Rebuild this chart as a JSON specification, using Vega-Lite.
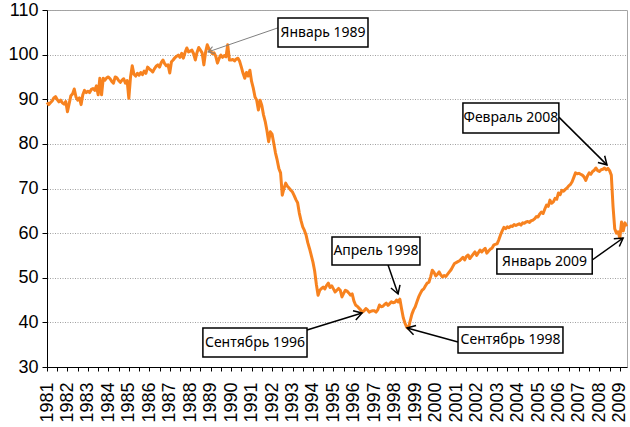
{
  "$schema": "https://vega.github.io/schema/vega-lite/v6.json",
  "autosize": "none",
  "width": 580,
  "height": 357,
  "padding": {"left": 47, "top": 10, "right": 3, "bottom": 60},
  "background": "white",
  "config": {
    "view": {"stroke": "#A6A6A6", "strokeWidth": 1},
    "axis": {"labelOverlap": false, "labelFlush": false, "labelBound": false}
  },
  "datasets": {
    "series": [
      {"t":1981,"v":89.3},{"t":1981.083,"v":88.8},{"t":1981.167,"v":89.2},{"t":1981.25,"v":89.6},{"t":1981.333,"v":90.3},{"t":1981.417,"v":90.6},{"t":1981.5,"v":89.9},{"t":1981.583,"v":89.4},{"t":1981.667,"v":89.8},{"t":1981.75,"v":89.2},{"t":1981.833,"v":88.9},{"t":1981.917,"v":89.5},
      {"t":1982,"v":87.2},{"t":1982.083,"v":89},{"t":1982.167,"v":90.8},{"t":1982.25,"v":91.2},{"t":1982.333,"v":92.3},{"t":1982.417,"v":90.5},{"t":1982.5,"v":89.8},{"t":1982.583,"v":90.3},{"t":1982.667,"v":88.8},{"t":1982.75,"v":91},{"t":1982.833,"v":92},{"t":1982.917,"v":91.5},
      {"t":1983,"v":91.8},{"t":1983.083,"v":91.5},{"t":1983.167,"v":92.2},{"t":1983.25,"v":92.4},{"t":1983.333,"v":92},{"t":1983.417,"v":93},{"t":1983.5,"v":91},{"t":1983.583,"v":94.7},{"t":1983.667,"v":91},{"t":1983.75,"v":94.7},{"t":1983.833,"v":94.3},{"t":1983.917,"v":94.8},
      {"t":1984,"v":95},{"t":1984.083,"v":94.6},{"t":1984.167,"v":94},{"t":1984.25,"v":93.6},{"t":1984.333,"v":95},{"t":1984.417,"v":94.8},{"t":1984.5,"v":94.2},{"t":1984.583,"v":93.8},{"t":1984.667,"v":94.3},{"t":1984.75,"v":94.6},{"t":1984.833,"v":93.6},{"t":1984.917,"v":94.2},
      {"t":1985,"v":90.2},{"t":1985.083,"v":95},{"t":1985.167,"v":97.5},{"t":1985.25,"v":95.6},{"t":1985.333,"v":95.2},{"t":1985.417,"v":95.8},{"t":1985.5,"v":95.4},{"t":1985.583,"v":96},{"t":1985.667,"v":95.5},{"t":1985.75,"v":96.3},{"t":1985.833,"v":95.8},{"t":1985.917,"v":97.2},
      {"t":1986,"v":96.8},{"t":1986.083,"v":96.5},{"t":1986.167,"v":96.1},{"t":1986.25,"v":96.8},{"t":1986.333,"v":97.4},{"t":1986.417,"v":97.7},{"t":1986.5,"v":97.2},{"t":1986.583,"v":98.2},{"t":1986.667,"v":98.8},{"t":1986.75,"v":98},{"t":1986.833,"v":97.5},{"t":1986.917,"v":97.7},
      {"t":1987,"v":95.9},{"t":1987.083,"v":98.4},{"t":1987.167,"v":98.8},{"t":1987.25,"v":99.3},{"t":1987.333,"v":99.6},{"t":1987.417,"v":99.9},{"t":1987.5,"v":99.4},{"t":1987.583,"v":100.3},{"t":1987.667,"v":99.2},{"t":1987.75,"v":100.5},{"t":1987.833,"v":101.5},{"t":1987.917,"v":100.6},
      {"t":1988,"v":100.8},{"t":1988.083,"v":101},{"t":1988.167,"v":100.2},{"t":1988.25,"v":98.8},{"t":1988.333,"v":100.5},{"t":1988.417,"v":101.6},{"t":1988.5,"v":101},{"t":1988.583,"v":100.4},{"t":1988.667,"v":97.7},{"t":1988.75,"v":100.5},{"t":1988.833,"v":102.2},{"t":1988.917,"v":101.3},
      {"t":1989,"v":100.8},{"t":1989.083,"v":100.2},{"t":1989.167,"v":100.4},{"t":1989.25,"v":99.6},{"t":1989.333,"v":98.1},{"t":1989.417,"v":99.2},{"t":1989.5,"v":99.9},{"t":1989.583,"v":99.4},{"t":1989.667,"v":99.8},{"t":1989.75,"v":99.5},{"t":1989.833,"v":102.2},{"t":1989.917,"v":98.8},
      {"t":1990,"v":98.8},{"t":1990.083,"v":98.9},{"t":1990.167,"v":98.6},{"t":1990.25,"v":99},{"t":1990.333,"v":99.2},{"t":1990.417,"v":98.5},{"t":1990.5,"v":97.2},{"t":1990.583,"v":95.8},{"t":1990.667,"v":94.7},{"t":1990.75,"v":96},{"t":1990.833,"v":95.2},{"t":1990.917,"v":96.5},
      {"t":1991,"v":94},{"t":1991.083,"v":92.5},{"t":1991.167,"v":90.5},{"t":1991.25,"v":89.8},{"t":1991.333,"v":87.6},{"t":1991.417,"v":89.8},{"t":1991.5,"v":88.6},{"t":1991.583,"v":86.5},{"t":1991.667,"v":85},{"t":1991.75,"v":83},{"t":1991.833,"v":80.5},{"t":1991.917,"v":82.7},
      {"t":1992,"v":82.2},{"t":1992.083,"v":80.2},{"t":1992.167,"v":78},{"t":1992.25,"v":76.4},{"t":1992.333,"v":74.5},{"t":1992.417,"v":73.5},{"t":1992.5,"v":68.5},{"t":1992.583,"v":70},{"t":1992.667,"v":71.2},{"t":1992.75,"v":70.5},{"t":1992.833,"v":70.1},{"t":1992.917,"v":69.6},
      {"t":1993,"v":69.2},{"t":1993.083,"v":68.4},{"t":1993.167,"v":67.5},{"t":1993.25,"v":66.8},{"t":1993.333,"v":64.5},{"t":1993.417,"v":62.8},{"t":1993.5,"v":61.4},{"t":1993.583,"v":60.6},{"t":1993.667,"v":59.5},{"t":1993.75,"v":57.8},{"t":1993.833,"v":56.5},{"t":1993.917,"v":55},
      {"t":1994,"v":53.5},{"t":1994.083,"v":51.5},{"t":1994.167,"v":48.5},{"t":1994.25,"v":46.1},{"t":1994.333,"v":47.2},{"t":1994.417,"v":47.6},{"t":1994.5,"v":47.9},{"t":1994.583,"v":47.5},{"t":1994.667,"v":48.3},{"t":1994.75,"v":48.8},{"t":1994.833,"v":47.8},{"t":1994.917,"v":48.2},
      {"t":1995,"v":47.5},{"t":1995.083,"v":46.8},{"t":1995.167,"v":47.2},{"t":1995.25,"v":47.6},{"t":1995.333,"v":47.2},{"t":1995.417,"v":45.7},{"t":1995.5,"v":46.5},{"t":1995.583,"v":47.2},{"t":1995.667,"v":47},{"t":1995.75,"v":46.6},{"t":1995.833,"v":46.1},{"t":1995.917,"v":46.4},
      {"t":1996,"v":44.8},{"t":1996.083,"v":43.9},{"t":1996.167,"v":43.6},{"t":1996.25,"v":43.2},{"t":1996.333,"v":42.8},{"t":1996.417,"v":42.3},{"t":1996.5,"v":42.6},{"t":1996.583,"v":43.1},{"t":1996.667,"v":42.8},{"t":1996.75,"v":42.3},{"t":1996.833,"v":42.5},{"t":1996.917,"v":42.6},
      {"t":1997,"v":42.6},{"t":1997.083,"v":42.3},{"t":1997.167,"v":42.8},{"t":1997.25,"v":43.9},{"t":1997.333,"v":43.5},{"t":1997.417,"v":43.6},{"t":1997.5,"v":44},{"t":1997.583,"v":44.3},{"t":1997.667,"v":43.8},{"t":1997.75,"v":44.2},{"t":1997.833,"v":44.6},{"t":1997.917,"v":44.4},
      {"t":1998,"v":44.5},{"t":1998.083,"v":45},{"t":1998.167,"v":44.6},{"t":1998.25,"v":45.2},{"t":1998.333,"v":43},{"t":1998.417,"v":41},{"t":1998.5,"v":39.8},{"t":1998.583,"v":38.9},{"t":1998.667,"v":38.6},{"t":1998.75,"v":40.3},{"t":1998.833,"v":41.8},{"t":1998.917,"v":42.8},
      {"t":1999,"v":43.5},{"t":1999.083,"v":44.6},{"t":1999.167,"v":45.7},{"t":1999.25,"v":46.5},{"t":1999.333,"v":47.2},{"t":1999.417,"v":47.5},{"t":1999.5,"v":48.2},{"t":1999.583,"v":48.8},{"t":1999.667,"v":49},{"t":1999.75,"v":50.2},{"t":1999.833,"v":51.7},{"t":1999.917,"v":51.2},
      {"t":2000,"v":50.4},{"t":2000.083,"v":50.8},{"t":2000.167,"v":51.3},{"t":2000.25,"v":50.6},{"t":2000.333,"v":50.2},{"t":2000.417,"v":50.5},{"t":2000.5,"v":50.3},{"t":2000.583,"v":50.8},{"t":2000.667,"v":51.3},{"t":2000.75,"v":51.8},{"t":2000.833,"v":52.5},{"t":2000.917,"v":53.2},
      {"t":2001,"v":53.4},{"t":2001.083,"v":53.6},{"t":2001.167,"v":53.8},{"t":2001.25,"v":54.2},{"t":2001.333,"v":54.6},{"t":2001.417,"v":54},{"t":2001.5,"v":54.8},{"t":2001.583,"v":55.1},{"t":2001.667,"v":54.3},{"t":2001.75,"v":54.8},{"t":2001.833,"v":55.3},{"t":2001.917,"v":55.8},
      {"t":2002,"v":55},{"t":2002.083,"v":55.6},{"t":2002.167,"v":56.2},{"t":2002.25,"v":55.8},{"t":2002.333,"v":56.2},{"t":2002.417,"v":56.6},{"t":2002.5,"v":55.5},{"t":2002.583,"v":56},{"t":2002.667,"v":56.4},{"t":2002.75,"v":56.6},{"t":2002.833,"v":57.3},{"t":2002.917,"v":57.5},
      {"t":2003,"v":57.6},{"t":2003.083,"v":58.5},{"t":2003.167,"v":59.6},{"t":2003.25,"v":60.5},{"t":2003.333,"v":61.3},{"t":2003.417,"v":61},{"t":2003.5,"v":61.4},{"t":2003.583,"v":61.2},{"t":2003.667,"v":61.6},{"t":2003.75,"v":61.5},{"t":2003.833,"v":61.9},{"t":2003.917,"v":61.7},
      {"t":2004,"v":61.9},{"t":2004.083,"v":62.1},{"t":2004.167,"v":61.8},{"t":2004.25,"v":62.3},{"t":2004.333,"v":62.2},{"t":2004.417,"v":62.5},{"t":2004.5,"v":62.6},{"t":2004.583,"v":62.4},{"t":2004.667,"v":62.8},{"t":2004.75,"v":62.9},{"t":2004.833,"v":63.2},{"t":2004.917,"v":63.7},
      {"t":2005,"v":63.6},{"t":2005.083,"v":64.3},{"t":2005.167,"v":64.7},{"t":2005.25,"v":64.4},{"t":2005.333,"v":65.4},{"t":2005.417,"v":66.3},{"t":2005.5,"v":66},{"t":2005.583,"v":67.4},{"t":2005.667,"v":66.7},{"t":2005.75,"v":67},{"t":2005.833,"v":67.8},{"t":2005.917,"v":67.6},
      {"t":2006,"v":69},{"t":2006.083,"v":68.6},{"t":2006.167,"v":69.6},{"t":2006.25,"v":69.4},{"t":2006.333,"v":69.8},{"t":2006.417,"v":70.1},{"t":2006.5,"v":70.6},{"t":2006.583,"v":70.9},{"t":2006.667,"v":71.5},{"t":2006.75,"v":72.5},{"t":2006.833,"v":73.5},{"t":2006.917,"v":73.3},
      {"t":2007,"v":73.4},{"t":2007.083,"v":73.2},{"t":2007.167,"v":73},{"t":2007.25,"v":72.6},{"t":2007.333,"v":71.8},{"t":2007.417,"v":72.8},{"t":2007.5,"v":73.5},{"t":2007.583,"v":73.2},{"t":2007.667,"v":73.8},{"t":2007.75,"v":74.1},{"t":2007.833,"v":74.6},{"t":2007.917,"v":74},
      {"t":2008,"v":73.8},{"t":2008.083,"v":74.2},{"t":2008.167,"v":74.3},{"t":2008.25,"v":74.6},{"t":2008.333,"v":74.2},{"t":2008.417,"v":74.5},{"t":2008.5,"v":74},{"t":2008.583,"v":73},{"t":2008.667,"v":66},{"t":2008.75,"v":61},{"t":2008.833,"v":60},{"t":2008.917,"v":60.3},
      {"t":2009,"v":58.9},{"t":2009.083,"v":62.5},{"t":2009.167,"v":60.5},{"t":2009.25,"v":62.3},{"t":2009.333,"v":61.5}
    ],
    "notes": [
      {"name":"jan89","label":"Январь 1989","x1":1992.29,"x2":1996.69,"y1":108.2,"y2":101.7,"tx":1994.49,"ty":104.95,"xa":1992.29,"ya":106.0,"xb":1988.87,"yb":100.6},
      {"name":"feb08","label":"Февраль 2008","x1":2001.33,"x2":2006.02,"y1":89.16,"y2":82.44,"tx":2003.675,"ty":85.8,"xa":2006.02,"ya":86.0,"xb":2008.37,"yb":75.3},
      {"name":"apr98","label":"Апрель 1998","x1":1994.93,"x2":1999.23,"y1":59.13,"y2":52.86,"tx":1997.08,"ty":56.0,"xa":1997.67,"ya":52.86,"xb":1998.16,"yb":46.36},
      {"name":"sep96","label":"Сентябрь 1996","x1":1988.62,"x2":1993.71,"y1":38.74,"y2":32.24,"tx":1991.165,"ty":35.49,"xa":1993.71,"ya":38.29,"xb":1996.4,"yb":42.1},
      {"name":"sep98","label":"Сентябрь 1998","x1":2001.09,"x2":2006.22,"y1":38.96,"y2":33.14,"tx":2003.655,"ty":36.05,"xa":2001.09,"ya":35.6,"xb":1998.6,"yb":38.74},
      {"name":"jan09","label":"Январь 2009","x1":2002.99,"x2":2007.65,"y1":56.44,"y2":50.84,"tx":2005.32,"ty":53.64,"xa":2007.65,"ya":53.98,"xb":2009.16,"yb":58.91}
    ]
  },
  "layer": [
    {
      "data": {"name": "series"},
      "mark": {"type": "line", "color": "#F7821F", "strokeWidth": 3, "strokeJoin": "round"},
      "encoding": {
        "x": {
          "field": "t", "type": "quantitative",
          "scale": {"domain": [1981, 2009.35], "nice": false, "zero": false},
          "axis": {
            "title": null, "grid": false, "tickCount": 200,
            "values": [1981,1981.5,1982,1982.5,1983,1983.5,1984,1984.5,1985,1985.5,1986,1986.5,1987,1987.5,1988,1988.5,1989,1989.5,1990,1990.5,1991,1991.5,1992,1992.5,1993,1993.5,1994,1994.5,1995,1995.5,1996,1996.5,1997,1997.5,1998,1998.5,1999,1999.5,2000,2000.5,2001,2001.5,2002,2002.5,2003,2003.5,2004,2004.5,2005,2005.5,2006,2006.5,2007,2007.5,2008,2008.5,2009],
            "labelExpr": "datum.value % 1 === 0 ? '' + datum.value : ''",
            "labelAngle": -90, "labelFont": "Liberation Sans", "labelColor": "black",
            "labelFontSize": {"condition": {"test": "datum.value % 1 !== 0", "value": 1}, "value": 18},
            "labelPadding": 11, "labelOverlap": false, "labelFlush": false, "labelBound": false, "labelSeparation": 0,
            "domainColor": "black", "domainWidth": 1, "tickColor": "black", "tickSize": 4
          }
        },
        "y": {
          "field": "v", "type": "quantitative",
          "scale": {"domain": [30, 110], "nice": false, "zero": false},
          "axis": {
            "title": null, "values": [30,40,50,60,70,80,90,100,110], "tickCount": 20,
            "grid": true, "gridColor": "#A0A0A0", "gridDash": [1, 1.5], "gridWidth": 1,
            "labelFont": "Liberation Sans", "labelFontSize": 18, "labelColor": "black", "labelPadding": 4,
            "domainColor": "black", "domainWidth": 1, "tickColor": "black", "tickSize": 5
          }
        }
      }
    },
    {
      "data": {"name": "notes"},
      "transform": [{"filter": "datum.name === 'jan89'"}],
      "mark": {"type": "rule", "color": "#808080", "strokeWidth": 1},
      "encoding": {
        "x": {"field": "xa", "type": "quantitative"},
        "y": {"field": "ya", "type": "quantitative"},
        "x2": {"field": "xb"},
        "y2": {"field": "yb"}
      }
    },
    {
      "data": {"name": "notes"},
      "transform": [{"filter": "datum.name !== 'jan89'"}],
      "mark": {"type": "rule", "color": "black", "strokeWidth": 1.5},
      "encoding": {
        "x": {"field": "xa", "type": "quantitative"},
        "y": {"field": "ya", "type": "quantitative"},
        "x2": {"field": "xb"},
        "y2": {"field": "yb"}
      }
    },
    {
      "data": {"name": "notes"},
      "transform": [{"filter": "datum.name === 'jan89'"}],
      "mark": {"type": "point", "shape": "M-1,-0.6L0,0L-1,0.6", "filled": false, "color": "#808080", "strokeWidth": 1, "size": 144, "opacity": 1, "angle": 161},
      "encoding": {"x": {"field": "xb", "type": "quantitative"}, "y": {"field": "yb", "type": "quantitative"}}
    },
    {
      "data": {"name": "notes"},
      "transform": [{"filter": "datum.name === 'feb08'"}],
      "mark": {"type": "point", "shape": "M-1,-0.6L0,0L-1,0.6", "filled": false, "color": "black", "strokeWidth": 1.5, "size": 256, "opacity": 1, "angle": 45},
      "encoding": {"x": {"field": "xb", "type": "quantitative"}, "y": {"field": "yb", "type": "quantitative"}}
    },
    {
      "data": {"name": "notes"},
      "transform": [{"filter": "datum.name === 'apr98'"}],
      "mark": {"type": "point", "shape": "M-1,-0.6L0,0L-1,0.6", "filled": false, "color": "black", "strokeWidth": 1.5, "size": 256, "opacity": 1, "angle": 71},
      "encoding": {"x": {"field": "xb", "type": "quantitative"}, "y": {"field": "yb", "type": "quantitative"}}
    },
    {
      "data": {"name": "notes"},
      "transform": [{"filter": "datum.name === 'sep96'"}],
      "mark": {"type": "point", "shape": "M-1,-0.6L0,0L-1,0.6", "filled": false, "color": "black", "strokeWidth": 1.5, "size": 256, "opacity": 1, "angle": -17},
      "encoding": {"x": {"field": "xb", "type": "quantitative"}, "y": {"field": "yb", "type": "quantitative"}}
    },
    {
      "data": {"name": "notes"},
      "transform": [{"filter": "datum.name === 'sep98'"}],
      "mark": {"type": "point", "shape": "M-1,-0.6L0,0L-1,0.6", "filled": false, "color": "black", "strokeWidth": 1.5, "size": 256, "opacity": 1, "angle": 195},
      "encoding": {"x": {"field": "xb", "type": "quantitative"}, "y": {"field": "yb", "type": "quantitative"}}
    },
    {
      "data": {"name": "notes"},
      "transform": [{"filter": "datum.name === 'jan09'"}],
      "mark": {"type": "point", "shape": "M-1,-0.6L0,0L-1,0.6", "filled": false, "color": "black", "strokeWidth": 1.5, "size": 256, "opacity": 1, "angle": -35},
      "encoding": {"x": {"field": "xb", "type": "quantitative"}, "y": {"field": "yb", "type": "quantitative"}}
    },
    {
      "data": {"name": "notes"},
      "mark": {"type": "rect", "fill": "white", "stroke": "black", "strokeWidth": 1.5},
      "encoding": {
        "x": {"field": "x1", "type": "quantitative"},
        "x2": {"field": "x2"},
        "y": {"field": "y1", "type": "quantitative"},
        "y2": {"field": "y2"}
      }
    },
    {
      "data": {"name": "notes"},
      "mark": {"type": "text", "font": "Noto Sans", "fontSize": 14, "color": "black", "align": "center", "baseline": "middle"},
      "encoding": {
        "x": {"field": "tx", "type": "quantitative"},
        "y": {"field": "ty", "type": "quantitative"},
        "text": {"field": "label"}
      }
    }
  ]
}
